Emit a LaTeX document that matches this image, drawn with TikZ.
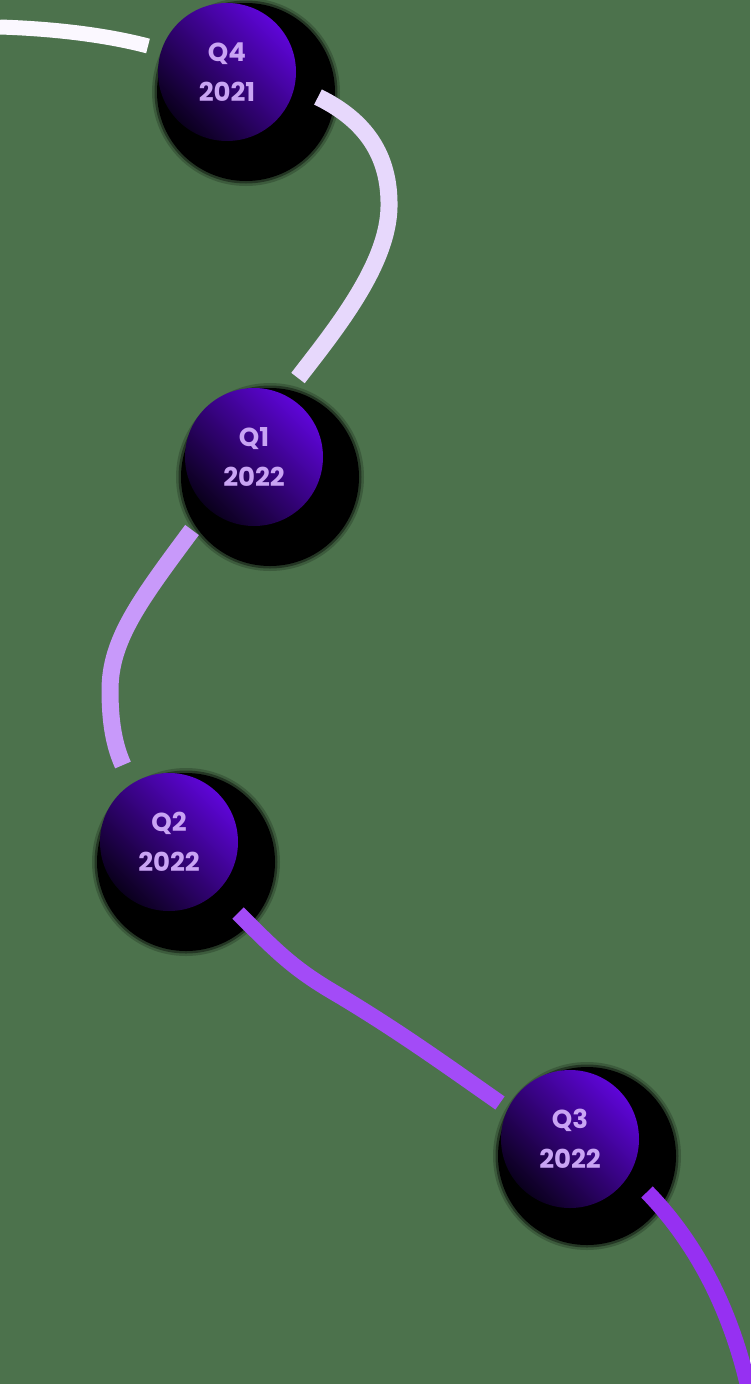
\documentclass[tikz,border=0pt]{standalone}
\usepackage{fontspec}
\usepackage{tikz}
\newfontfamily\datefont{Poppins}

\definecolor{bggreen}{HTML}{4C724C}
\definecolor{datetext}{HTML}{C9A4F4}
\definecolor{facetop}{HTML}{5E05D8}
\definecolor{facebot}{HTML}{0A001C}
\definecolor{roadA}{HTML}{FBF8FF}
\definecolor{roadB}{HTML}{E7D8FC}
\definecolor{roadC}{HTML}{C899FA}
\definecolor{roadD}{HTML}{A34BF7}
\definecolor{roadE}{HTML}{9630F2}

\begin{document}
\begin{tikzpicture}[x=1pt,y=-1pt]
      \tikzstyle{halo}=[shape=circle,fill=black,inner sep=0pt,minimum size=188pt,opacity=0.2];
      \tikzstyle{ball}=[shape=circle,fill=black,inner sep=0pt,minimum size=178pt];
      \tikzstyle{face}=[shape=circle,inner sep=0pt,minimum size=138pt,top color=facetop,bottom color=facebot,shading angle=-45,text=datetext,align=center,font=\datefont\bfseries\fontsize{26}{40}\selectfont];
      \tikzstyle{road}=[line width=17pt,line cap=butt];

      \useasboundingbox (0,0) rectangle (750,1384);
      \fill[bggreen] (0,0) rectangle (750,1384);

      \node[halo](q4halo) at (246,92) {};
      \node[halo](q1halo) at (270,477) {};
      \node[halo](q2halo) at (186,862) {};
      \node[halo](q3halo) at (587,1156) {};

      \node[halo,minimum size=183pt,opacity=0.4] at (246,92) {};
      \node[halo,minimum size=183pt,opacity=0.4] at (270,477) {};
      \node[halo,minimum size=183pt,opacity=0.4] at (186,862) {};
      \node[halo,minimum size=183pt,opacity=0.4] at (587,1156) {};

      \node[ball](q4ball) at (246,92) {};
      \node[ball](q1ball) at (270,477) {};
      \node[ball](q2ball) at (186,862) {};
      \node[ball](q3ball) at (587,1156) {};

      \node[face](q4face) at (227,72) {Q4\\2021};
      \node[face](q1face) at (254,457) {Q1\\2022};
      \node[face](q2face) at (169,842) {Q2\\2022};
      \node[face](q3face) at (570,1139) {Q3\\2022};

      \coordinate (start) at (0,27);
      \coordinate (q4in) at (148,46);
      \coordinate (q4out) at (318,97);
      \coordinate (q1in) at (298,378);
      \coordinate (q1out) at (192,530);
      \coordinate (q2in) at (123,765);
      \coordinate (q2out) at (238,913);
      \coordinate (q3in) at (500,1103);
      \coordinate (q3out) at (647,1192);
      \coordinate (finish) at (750,1395);

      \draw[road,roadA,line width=15pt] (start) .. controls (60,29) and (110,36) .. (q4in);
      \draw[road,roadB] (q4out) .. controls (365,120) and (390,155) .. (389,207)
                                 .. controls (388,265) and (335,330) .. (q1in);
      \draw[road,roadC] (q1out) .. controls (140,600) and (110,640) .. (110,690)
                                 .. controls (110,722) and (114,745) .. (q2in);
      \draw[road,roadD,line width=16pt] (q2out) .. controls (280,955) and (295,970) .. (340,996)
                                 .. controls (400,1032) and (450,1068) .. (q3in);
      \draw[road,roadE,line width=16pt] (q3out) .. controls (692,1238) and (731,1305) .. (finish);

    \end{tikzpicture}
\end{document}
